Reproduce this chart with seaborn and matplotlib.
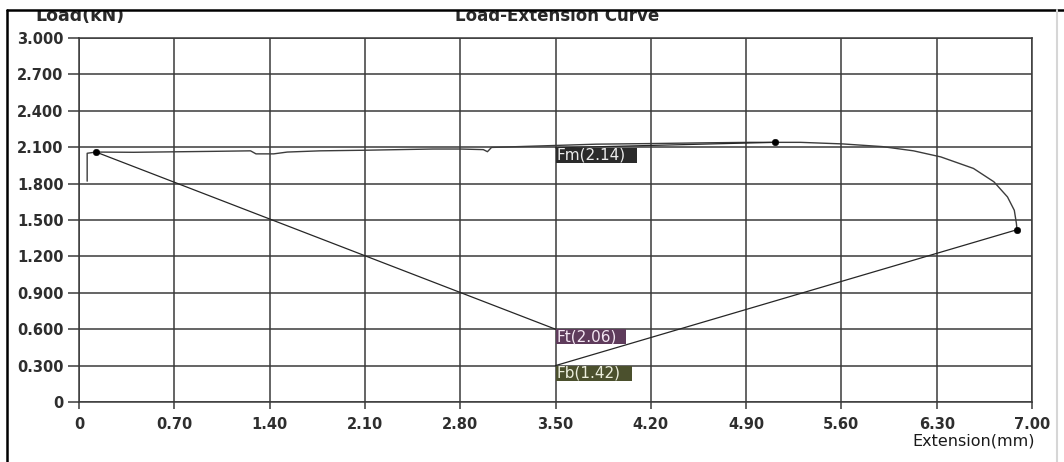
import matplotlib
matplotlib.use("Agg")
import matplotlib.pyplot as plt
from matplotlib.patches import Rectangle
import seaborn as sns
import pandas as pd

# Load-extension record of the tensile test
extension = [0.06, 0.06, 0.125, 0.40, 0.70, 1.00, 1.26, 1.30, 1.43, 1.53, 1.77,
             2.10, 2.60, 2.80, 2.97, 3.00, 3.03, 3.46, 3.80, 4.20, 4.60, 4.93,
             5.11, 5.30, 5.61, 5.90, 6.13, 6.33, 6.57, 6.72, 6.82, 6.87, 6.885, 6.89]
load = [1.82, 2.05, 2.06, 2.058, 2.062, 2.066, 2.07, 2.045, 2.045, 2.06, 2.07,
        2.075, 2.085, 2.085, 2.08, 2.063, 2.098, 2.113, 2.125, 2.13, 2.136, 2.14,
        2.14, 2.14, 2.127, 2.105, 2.07, 2.02, 1.925, 1.815, 1.69, 1.58, 1.475, 1.42]

# Characteristic points: name, extension, load
point_names = ["Fm", "Ft", "Fb"]
point_ext = [5.11, 0.125, 6.89]
point_load = [2.14, 2.06, 1.42]

# Label boxes (anchored at the same extension, leader goes to the top-left corner)
label_x = 3.50
label_top = [2.095, 0.60, 0.30]
label_width = [0.60, 0.515, 0.565]
label_colors = ["#2a2a2a", "#5e3b5b", "#4b502d"]
label_text_colors = ["#ececec", "#f3e6f2", "#eceedd"]

x_ticks = [0, 0.70, 1.40, 2.10, 2.80, 3.50, 4.20, 4.90, 5.60, 6.30, 7.00]
x_tick_labels = ["0", "0.70", "1.40", "2.10", "2.80", "3.50", "4.20", "4.90", "5.60", "6.30", "7.00"]
y_ticks = [0, 0.3, 0.6, 0.9, 1.2, 1.5, 1.8, 2.1, 2.4, 2.7, 3.0]
y_tick_labels = ["0", "0.300", "0.600", "0.900", "1.200", "1.500", "1.800", "2.100", "2.400", "2.700", "3.000"]

sns.set_style("white")
plt.rcParams["font.family"] = ["DejaVu Sans"]

W, H = 1064, 462
fig = plt.figure(figsize=(W / 100, H / 100), dpi=100)
fig.patch.set_facecolor("white")
ax = fig.add_axes([79 / W, 60 / H, 953 / W, 364 / H])

grid_color = "#3a3a3a"
ax.set_xlim(0, 7)
ax.set_ylim(0, 3)
ax.set_xticks(x_ticks)
ax.set_xticklabels(x_tick_labels, fontweight="bold")
ax.set_yticks(y_ticks)
ax.set_yticklabels(y_tick_labels, fontweight="bold")
ax.grid(True, color=grid_color, linewidth=1.1)
for s in ax.spines.values():
    s.set_visible(True)
    s.set_color(grid_color)
    s.set_linewidth(1.1)
ax.tick_params(axis="y", length=8, width=1.1, color=grid_color, pad=3,
               labelsize=10.5, labelcolor="#2e2e2e", left=True)
ax.tick_params(axis="x", length=5, width=1.1, color=grid_color, pad=6,
               labelsize=10.5, labelcolor="#2e2e2e", bottom=True)

curve = pd.DataFrame({"ext": extension, "load": load})
sns.lineplot(data=curve, x="ext", y="load", sort=False, estimator=None,
             color="#3c3c3c", linewidth=1.0, ax=ax, zorder=3)

# Leader lines from each point to its label box
for px, py, top in zip(point_ext, point_load, label_top):
    ax.plot([px, label_x], [py, top], color="#262626", linewidth=0.9, zorder=3)

pts = pd.DataFrame({"ext": point_ext, "load": point_load})
sns.scatterplot(data=pts, x="ext", y="load", color="black", s=22,
                edgecolor="black", ax=ax, zorder=4)
ax.set_xlabel("")
ax.set_ylabel("")

box_h = 0.125
for name, val, top, w, bc, tc in zip(point_names, point_load, label_top,
                                     label_width, label_colors, label_text_colors):
    ax.add_patch(Rectangle((label_x, top - box_h), w, box_h, facecolor=bc,
                           edgecolor="none", zorder=5))
    ax.text(label_x + 0.01, top - box_h / 2, f"{name}({val:.2f})", color=tc,
            fontsize=11, va="center", ha="left", zorder=6)

# Titles and axis captions
fig.text(557 / W, 1 - 21 / H, "Load-Extension Curve", ha="center", va="baseline",
         fontsize=12, fontweight="bold", color="#2a2a2a", zorder=5)
fig.text(35 / W, 1 - 21 / H, "Load(kN)", ha="left", va="baseline",
         fontsize=12.5, fontweight="bold", color="#2a2a2a", zorder=5)
fig.text(1035 / W, 1 - 441 / H, "Extension(mm)", ha="right", va="center",
         fontsize=11.5, color="#1a1a1a", zorder=5)

# Page frame
fig.add_artist(Rectangle((0, 1 - 10 / H), 1, 10 / H, transform=fig.transFigure,
                         facecolor="white", edgecolor="none", zorder=20))
fig.add_artist(plt.Line2D([7 / W, 1], [1 - 10 / H, 1 - 10 / H],
                          transform=fig.transFigure, color="black", lw=1.8, zorder=21))
fig.add_artist(plt.Line2D([7 / W, 7 / W], [0, 1 - 10 / H],
                          transform=fig.transFigure, color="black", lw=1.8, zorder=21))
fig.add_artist(plt.Line2D([1057 / W, 1057 / W], [0, 1 - 10 / H],
                          transform=fig.transFigure, color="#d6d6d6", lw=1.5, zorder=21))

fig.savefig("out.png", dpi=100, facecolor="white")
